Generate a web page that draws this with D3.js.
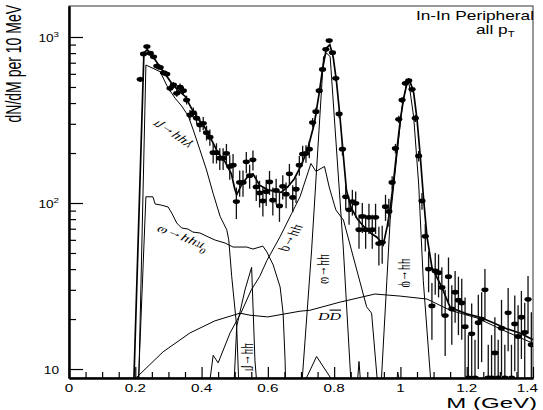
<!DOCTYPE html>
<html><head><meta charset="utf-8">
<script src="https://cdn.jsdelivr.net/npm/d3@7"></script>
<style>body{margin:0;background:#fff}</style>
</head><body><svg id="chart" width="543" height="410"></svg>
<script>
// Dimuon invariant mass spectrum, In-In peripheral collisions, all pT
const massDomain = [0, 1.4];
const countDomain = [8.83, 1537];

const xMajorTicks = [0, 0.2, 0.4, 0.6, 0.8, 1.0, 1.2, 1.4];
const xMinorTicks = [0.05, 0.1, 0.15, 0.25, 0.3, 0.35, 0.45, 0.5, 0.55, 0.65, 0.7, 0.75,
  0.85, 0.9, 0.95, 1.05, 1.1, 1.15, 1.25, 1.3, 1.35];
const xTickLabels = ["0", "0.2", "0.4", "0.6", "0.8", "1", "1.2", "1.4"];
const yMajorTicks = [10, 100, 1000];
const yMinorTicks = [20, 30, 40, 50, 60, 70, 80, 90, 200, 300, 400, 500, 600, 700, 800, 900];
const yTickBase = ["10", "10", "10"];
const yTickExp = ["", "2", "3"];

// measured spectrum: [mass (GeV), counts per 10 MeV, error]
const dataPoints = [
  [0.215, 556, 20], [0.225, 790, 25], [0.235, 875, 27], [0.245, 798, 26], [0.255, 760, 25],
  [0.265, 668, 24], [0.275, 656, 24], [0.285, 609, 23], [0.295, 598, 23], [0.305, 491, 22],
  [0.315, 514, 22], [0.325, 458, 22], [0.335, 498, 26], [0.345, 475, 26], [0.355, 417, 25],
  [0.365, 339, 24], [0.375, 350, 26], [0.385, 324, 26], [0.395, 295, 27], [0.405, 302, 28],
  [0.415, 265, 27], [0.425, 249, 28], [0.435, 201, 28], [0.445, 201, 28], [0.455, 186, 28],
  [0.465, 186, 28], [0.475, 199, 28], [0.485, 166, 28], [0.495, 169, 28], [0.505, 102, 22],
  [0.515, 133, 24], [0.525, 133, 24], [0.535, 177, 26], [0.545, 146, 24], [0.555, 182, 25],
  [0.565, 125, 22], [0.575, 115, 21], [0.585, 103, 20], [0.595, 117, 21], [0.605, 134, 22],
  [0.615, 104, 20], [0.625, 119, 21], [0.635, 96, 19], [0.645, 126, 21], [0.655, 113, 20],
  [0.665, 150, 22], [0.675, 108, 20], [0.685, 121, 21], [0.695, 169, 23], [0.705, 197, 24],
  [0.715, 199, 24], [0.725, 211, 25], [0.735, 305, 20], [0.745, 355, 20], [0.755, 475, 20],
  [0.765, 638, 22], [0.775, 843, 25], [0.785, 951, 26], [0.795, 804, 25], [0.805, 564, 22],
  [0.815, 344, 20], [0.825, 211, 18], [0.835, 109, 18], [0.845, 91, 17], [0.855, 102, 18],
  [0.865, 99.5, 18], [0.875, 69, 16], [0.885, 83, 17], [0.895, 69, 16], [0.905, 82, 17],
  [0.915, 69, 16], [0.925, 82, 17], [0.935, 57, 15], [0.945, 58, 15], [0.955, 95, 17],
  [0.965, 89, 17], [0.975, 133, 12], [0.985, 213, 14], [0.995, 319, 16], [1.005, 417, 18],
  [1.015, 526, 20], [1.025, 546, 20], [1.035, 484, 19], [1.045, 324, 16], [1.055, 192, 14],
  [1.065, 103, 12], [1.075, 63, 12], [1.085, 40, 11], [1.095, 24, 9], [1.105, 39, 11],
  [1.115, 38, 11], [1.125, 31, 10], [1.135, 21, 9], [1.145, 36, 11], [1.155, 23, 9],
  [1.165, 29, 10], [1.175, 26, 10], [1.185, 25, 10], [1.195, 18, 9], [1.205, 0, 16],
  [1.215, 16.3, 8.5], [1.225, 0, 15], [1.235, 19, 9], [1.245, 20, 9], [1.255, 30, 10],
  [1.265, 0, 14], [1.275, 0, 16], [1.285, 12.5, 8], [1.295, 0, 15], [1.305, 17.6, 8.5],
  [1.315, 0, 14], [1.325, 21.8, 9], [1.335, 0, 14], [1.345, 18.7, 9], [1.355, 15.7, 8.5],
  [1.365, 20.5, 9], [1.375, 16.6, 8.5], [1.385, 26.3, 10], [1.395, 14, 8]
];

// sum of all sources
const totalSum = [
  [0.196, 8.8], [0.226, 800], [0.236, 840], [0.25, 780], [0.27, 680], [0.29, 600], [0.31, 525],
  [0.33, 475], [0.35, 440], [0.37, 370], [0.39, 320], [0.41, 285], [0.43, 240], [0.45, 200],
  [0.47, 178], [0.49, 150], [0.50, 122], [0.506, 112], [0.52, 128], [0.54, 145], [0.555, 150],
  [0.575, 128], [0.60, 120], [0.62, 118], [0.64, 116], [0.66, 125], [0.68, 140], [0.70, 168],
  [0.72, 210], [0.74, 300], [0.755, 460], [0.765, 640], [0.777, 860], [0.787, 900], [0.797, 760],
  [0.807, 540], [0.817, 340], [0.827, 200], [0.837, 120], [0.85, 95], [0.87, 80], [0.89, 72],
  [0.91, 66], [0.93, 62], [0.948, 56], [0.96, 72], [0.97, 95], [0.98, 140], [0.99, 215],
  [1.0, 320], [1.01, 430], [1.02, 530], [1.028, 548], [1.04, 460], [1.05, 320], [1.06, 190],
  [1.07, 105], [1.08, 63], [1.095, 41], [1.125, 31], [1.15, 23.5], [1.2, 21.5], [1.24, 20.5],
  [1.28, 19], [1.32, 17.5], [1.36, 16.5], [1.40, 15]
];

const etaDalitz = [
  [0.208, 5], [0.232, 678], [0.275, 618], [0.297, 502], [0.32, 428], [0.34, 384], [0.36, 334],
  [0.375, 275], [0.395, 209], [0.415, 158], [0.435, 114], [0.456, 83], [0.476, 69], [0.482, 60],
  [0.491, 36], [0.506, 18], [0.516, 5]
];
const omegaDalitz = [
  [0.205, 5], [0.232, 109], [0.253, 109], [0.26, 98.6], [0.28, 97], [0.299, 94.6], [0.31, 87],
  [0.325, 75.8], [0.34, 70.7], [0.359, 69.7], [0.374, 66.8], [0.395, 66], [0.416, 63],
  [0.441, 59.8], [0.471, 57.4], [0.495, 54.3], [0.536, 54.3], [0.555, 52.8], [0.585, 55],
  [0.597, 50.7], [0.616, 42.4], [0.637, 31.2], [0.646, 21.7], [0.652, 11.3], [0.656, 5]
];
const rhoDimuon = [
  [0.41, 5], [0.435, 12.1], [0.45, 10.9], [0.486, 16.5], [0.52, 22], [0.55, 30], [0.575, 36],
  [0.597, 45], [0.637, 62.7], [0.672, 86.7], [0.697, 109], [0.73, 173], [0.745, 155],
  [0.771, 166], [0.785, 125], [0.805, 91], [0.828, 79], [0.898, 23.7], [0.913, 21.7], [0.94, 5]
];
const omegaDimuon = [
  [0.695, 5], [0.732, 52], [0.768, 760], [0.778, 798], [0.788, 760], [0.828, 52], [0.857, 5]
];
const phiDimuon = [
  [0.936, 5], [0.959, 34], [0.969, 79], [0.99, 200], [1.005, 380], [1.02, 538], [1.025, 540],
  [1.04, 330], [1.055, 130], [1.069, 34], [1.10, 5]
];
const etaDimuon = [
  [0.493, 5], [0.506, 18], [0.531, 30], [0.551, 41], [0.561, 11.3], [0.575, 5]
];
const openCharm = [
  [0.196, 8.6], [0.284, 12.7], [0.365, 16.5], [0.44, 19.5], [0.516, 21.7], [0.546, 21.1],
  [0.60, 20.6], [0.697, 22.3], [0.727, 22.6], [0.818, 25.3], [0.923, 28.3], [0.999, 27.5],
  [1.08, 26.4], [1.15, 22.6], [1.231, 20.3], [1.322, 16.7], [1.40, 14.3]
];
const lowResidual = [
  [0.70, 6], [0.716, 8.8], [0.747, 11.9], [0.79, 8.8], [0.80, 6], [0.865, 6], [0.875, 11.1],
  [0.885, 6], [0.98, 6], [0.992, 9.6], [1.01, 6]
];

const svg = d3.select("#chart");
const padL = 69, padR = 533, padT = 6, padB = 378;
const x = d3.scaleLinear().domain(massDomain).range([padL, padR]);
const y = d3.scaleLog().domain(countDomain).range([padB, padT]);
const yc = v => y(Math.max(v, countDomain[0]));

svg.append("defs").append("clipPath").attr("id", "plotArea")
  .append("rect").attr("x", padL).attr("y", padT).attr("width", padR - padL).attr("height", padB - padT);

// frame
svg.append("rect").attr("x", padL).attr("y", padT).attr("width", padR - padL).attr("height", padB - padT)
  .attr("fill", "none").attr("stroke", "#333").attr("stroke-width", 1);

const plot = svg.append("g").attr("clip-path", "url(#plotArea)");
const line = d3.line().x(d => x(d[0])).y(d => y(d[1]));

[etaDalitz, omegaDalitz, rhoDimuon, omegaDimuon, phiDimuon, etaDimuon, openCharm, lowResidual]
  .forEach(s => plot.append("path").attr("d", line(s)).attr("fill", "none")
    .attr("stroke", "#000").attr("stroke-width", 1));
plot.append("path").attr("d", line(totalSum)).attr("fill", "none")
  .attr("stroke", "#000").attr("stroke-width", 1.7);

// error bars and markers
plot.selectAll("line.err").data(dataPoints).join("line").attr("class", "err")
  .attr("x1", d => x(d[0])).attr("x2", d => x(d[0]))
  .attr("y1", d => yc(d[1] + d[2])).attr("y2", d => yc(d[1] - d[2]))
  .attr("stroke", "#111").attr("stroke-width", 1.3);
plot.selectAll("ellipse").data(dataPoints).join("ellipse")
  .attr("cx", d => x(d[0])).attr("cy", d => yc(d[1]))
  .attr("rx", 3.6).attr("ry", 2.4).attr("fill", "#000");

// axes with inward ticks
svg.append("g").attr("transform", `translate(0,${padB})`)
  .call(d3.axisBottom(x).tickValues(xMajorTicks).tickSize(-11).tickSizeOuter(0).tickFormat(""));
svg.append("g").attr("transform", `translate(0,${padB})`)
  .call(d3.axisBottom(x).tickValues(xMinorTicks).tickSize(-6).tickSizeOuter(0).tickFormat(""));
svg.append("g").attr("transform", `translate(${padL},0)`)
  .call(d3.axisLeft(y).tickValues(yMajorTicks).tickSize(-14).tickSizeOuter(0).tickFormat(""));
svg.append("g").attr("transform", `translate(${padL},0)`)
  .call(d3.axisLeft(y).tickValues(yMinorTicks).tickSize(-7).tickSizeOuter(0).tickFormat(""));
svg.selectAll(".domain").attr("stroke-width", 2).attr("stroke", "#000");
svg.selectAll(".tick line").attr("stroke", "#000").attr("stroke-width", 1.2);

const sans = "'Liberation Sans', Arial, sans-serif";
const serif = "'Liberation Serif', 'Times New Roman', serif";
function stretched(px, py, sx, anchor, size, family) {
  return svg.append("g").attr("transform", `translate(${px},${py}) scale(${sx},1)`)
    .append("text").attr("text-anchor", anchor).attr("font-size", size).attr("font-family", family);
}

xMajorTicks.forEach((t, i) => {
  const last = i === xMajorTicks.length - 1;
  stretched(last ? x(t) + 5 : x(t), 391.5, 1.45, last ? "end" : "middle", 10.5, sans).text(xTickLabels[i]);
});
yMajorTicks.forEach((t, i) => {
  const tx = stretched(59, y(t) + 5, 1.3, "end", 10.5, sans);
  tx.append("tspan").text(yTickBase[i]);
  if (yTickExp[i]) tx.append("tspan").attr("dy", -5).attr("font-size", 7.5).text(yTickExp[i]);
});

stretched(537, 408, 1.55, "end", 15.5, sans).text("M (GeV)");
svg.append("g").attr("transform", "translate(21,5) scale(1.55,1) rotate(-90)")
  .append("text").attr("text-anchor", "end").attr("font-size", 14).attr("font-family", sans)
  .text("dN/dM per 10 MeV");

stretched(534, 20, 1.33, "end", 13, sans).text("In-In Peripheral");
const sub = stretched(476, 34, 1.33, "start", 13, sans);
sub.append("tspan").text("all p");
sub.append("tspan").attr("dy", 3).attr("font-size", 8.5).text("T");

// source labels along the curves (mirrored across their baseline)
function sourceLabel(px, py, angle, parts) {
  const t = svg.append("g")
    .attr("transform", `translate(${px},${py}) scale(1.5,1) rotate(${angle}) scale(1,-1)`)
    .append("text").attr("text-anchor", "middle").attr("font-size", 11).attr("font-family", serif)
    .attr("dominant-baseline", "middle");
  parts.forEach(p => {
    const s = t.append("tspan").text(p[0]);
    if (p[1]) s.attr("dy", p[1]).attr("font-size", 7.5);
  });
  return t;
}
sourceLabel(173, 134, 45, [["η→μμγ"]]);
sourceLabel(183, 238, 30, [["ω→μμπ"], ["0", -4]]);
sourceLabel(292, 238, -68, [["ρ→μμ"]]);
sourceLabel(325, 269, -90, [["ω→μμ"]]);
sourceLabel(406, 273, -90, [["φ→μμ"]]);
sourceLabel(249, 357, -90, [["η→μμ"]]);

const dd = stretched(318, 320, 1.45, "start", 11, serif).attr("font-style", "italic");
dd.append("tspan").text("D");
dd.append("tspan").attr("text-decoration", "overline").text("D");
</script></body></html>
